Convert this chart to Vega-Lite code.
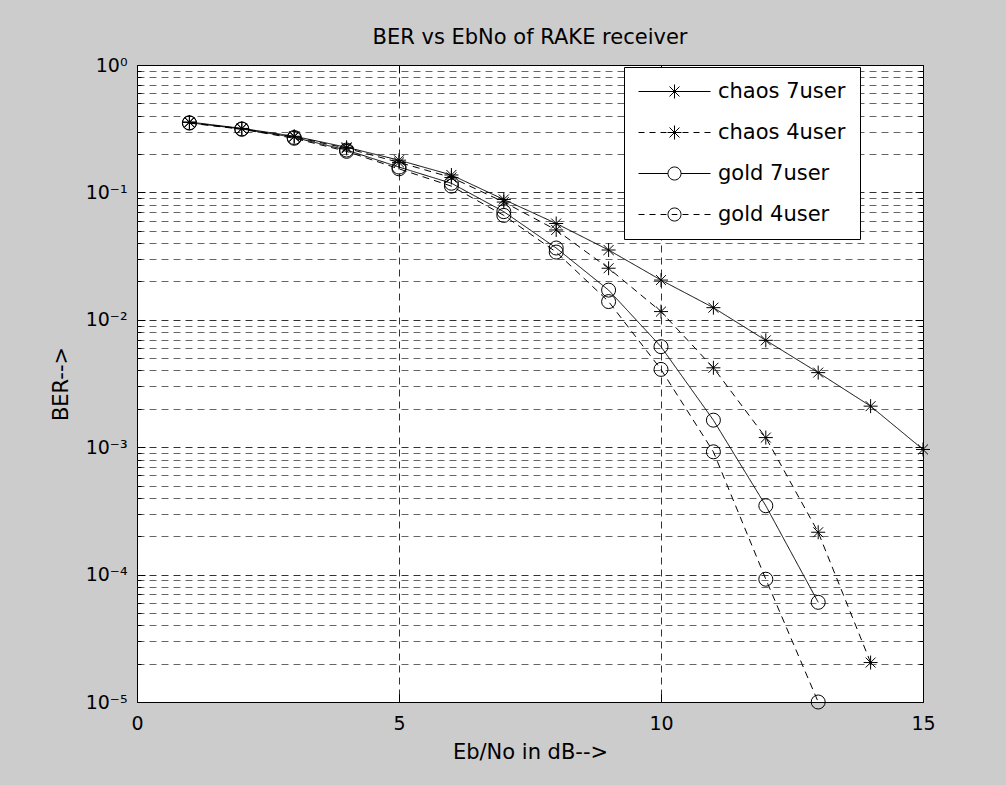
{
  "$schema": "https://vega.github.io/schema/vega-lite/v6.json",
  "width": 786,
  "height": 637,
  "autosize": {"type": "none"},
  "padding": {"left": 137, "top": 65, "right": 83, "bottom": 83},
  "background": "#cccccc",
  "title": {"text": "BER vs EbNo of RAKE receiver", "font": "DejaVu Sans", "fontSize": 21, "fontWeight": "normal", "color": "black", "anchor": "middle", "offset": 8},
  "config": {
    "view": {"fill": "white", "stroke": "black", "strokeWidth": 1},
    "axis": {"domain": false, "tickColor": "black", "labelColor": "black", "titleColor": "black", "labelFont": "DejaVu Sans", "titleFont": "DejaVu Sans", "titleFontWeight": "normal"}
  },
  "data": {"values": [
    {"ebno": 1, "ber": 0.357, "series": "chaos 7user"},
    {"ebno": 2, "ber": 0.318, "series": "chaos 7user"},
    {"ebno": 3, "ber": 0.276, "series": "chaos 7user"},
    {"ebno": 4, "ber": 0.226, "series": "chaos 7user"},
    {"ebno": 5, "ber": 0.179, "series": "chaos 7user"},
    {"ebno": 6, "ber": 0.137, "series": "chaos 7user"},
    {"ebno": 7, "ber": 0.088, "series": "chaos 7user"},
    {"ebno": 8, "ber": 0.057, "series": "chaos 7user"},
    {"ebno": 9, "ber": 0.0353, "series": "chaos 7user"},
    {"ebno": 10, "ber": 0.0205, "series": "chaos 7user"},
    {"ebno": 11, "ber": 0.01245, "series": "chaos 7user"},
    {"ebno": 12, "ber": 0.0069, "series": "chaos 7user"},
    {"ebno": 13, "ber": 0.00385, "series": "chaos 7user"},
    {"ebno": 14, "ber": 0.0021, "series": "chaos 7user"},
    {"ebno": 15, "ber": 0.00096, "series": "chaos 7user"},
    {"ebno": 1, "ber": 0.354, "series": "chaos 4user"},
    {"ebno": 2, "ber": 0.316, "series": "chaos 4user"},
    {"ebno": 3, "ber": 0.273, "series": "chaos 4user"},
    {"ebno": 4, "ber": 0.222, "series": "chaos 4user"},
    {"ebno": 5, "ber": 0.172, "series": "chaos 4user"},
    {"ebno": 6, "ber": 0.131, "series": "chaos 4user"},
    {"ebno": 7, "ber": 0.084, "series": "chaos 4user"},
    {"ebno": 8, "ber": 0.0507, "series": "chaos 4user"},
    {"ebno": 9, "ber": 0.0254, "series": "chaos 4user"},
    {"ebno": 10, "ber": 0.0116, "series": "chaos 4user"},
    {"ebno": 11, "ber": 0.0042, "series": "chaos 4user"},
    {"ebno": 12, "ber": 0.00119, "series": "chaos 4user"},
    {"ebno": 13, "ber": 0.000215, "series": "chaos 4user"},
    {"ebno": 14, "ber": 0.0000204, "series": "chaos 4user"},
    {"ebno": 1, "ber": 0.352, "series": "gold 7user"},
    {"ebno": 2, "ber": 0.315, "series": "gold 7user"},
    {"ebno": 3, "ber": 0.27, "series": "gold 7user"},
    {"ebno": 4, "ber": 0.215, "series": "gold 7user"},
    {"ebno": 5, "ber": 0.158, "series": "gold 7user"},
    {"ebno": 6, "ber": 0.118, "series": "gold 7user"},
    {"ebno": 7, "ber": 0.0706, "series": "gold 7user"},
    {"ebno": 8, "ber": 0.0366, "series": "gold 7user"},
    {"ebno": 9, "ber": 0.0171, "series": "gold 7user"},
    {"ebno": 10, "ber": 0.00615, "series": "gold 7user"},
    {"ebno": 11, "ber": 0.00163, "series": "gold 7user"},
    {"ebno": 12, "ber": 0.000347, "series": "gold 7user"},
    {"ebno": 13, "ber": 0.0000606, "series": "gold 7user"},
    {"ebno": 1, "ber": 0.35, "series": "gold 4user"},
    {"ebno": 2, "ber": 0.313, "series": "gold 4user"},
    {"ebno": 3, "ber": 0.266, "series": "gold 4user"},
    {"ebno": 4, "ber": 0.21, "series": "gold 4user"},
    {"ebno": 5, "ber": 0.153, "series": "gold 4user"},
    {"ebno": 6, "ber": 0.112, "series": "gold 4user"},
    {"ebno": 7, "ber": 0.066, "series": "gold 4user"},
    {"ebno": 8, "ber": 0.034, "series": "gold 4user"},
    {"ebno": 9, "ber": 0.0139, "series": "gold 4user"},
    {"ebno": 10, "ber": 0.00408, "series": "gold 4user"},
    {"ebno": 11, "ber": 0.00092, "series": "gold 4user"},
    {"ebno": 12, "ber": 0.000092, "series": "gold 4user"},
    {"ebno": 13, "ber": 0.00001, "series": "gold 4user"}
  ]},
  "resolve": {"axis": {"x": "independent", "y": "independent"}, "scale": {"shape": "independent"}},
  "layer": [
    {
      "mark": {"type": "line", "strokeWidth": 1, "color": "black"},
      "encoding": {
        "x": {"field": "ebno", "type": "quantitative", "scale": {"domain": [0, 15], "nice": false, "zero": false},
          "axis": {"orient": "bottom", "values": [0, 5, 10, 15], "title": "Eb/No in dB-->", "titleFontSize": 21, "titlePadding": 8,
            "labelFontSize": 19, "labelPadding": 20, "labelFlush": false, "labelOverlap": false,
            "tickSize": -8, "ticks": true,
            "grid": true, "gridDash": [7, 5], "gridColor": "#333333",
            "gridOpacity": {"condition": {"test": "datum.value == 0 || datum.value == 15", "value": 0}, "value": 1}}},
        "y": {"field": "ber", "type": "quantitative", "scale": {"type": "log", "domain": [0.00001, 1], "nice": false},
          "axis": {"orient": "left", "title": "BER-->", "titleFontSize": 21, "titlePadding": 14,
            "values": [0.00001, 0.00002, 0.00003, 0.00004, 0.00005, 0.00006, 0.00007, 0.00008, 0.00009,
                       0.0001, 0.0002, 0.0003, 0.0004, 0.0005, 0.0006, 0.0007, 0.0008, 0.0009,
                       0.001, 0.002, 0.003, 0.004, 0.005, 0.006, 0.007, 0.008, 0.009,
                       0.01, 0.02, 0.03, 0.04, 0.05, 0.06, 0.07, 0.08, 0.09,
                       0.1, 0.2, 0.3, 0.4, 0.5, 0.6, 0.7, 0.8, 0.9, 1],
            "labelExpr": "abs(log(datum.value)/LN10 - round(log(datum.value)/LN10)) < 0.001 ? (round(log(datum.value)/LN10) == 0 ? '10⁰' : '10⁻' + ['', '¹', '²', '³', '⁴', '⁵'][-round(log(datum.value)/LN10)]) : ''",
            "labelFontSize": 19, "labelPadding": 18, "labelOverlap": false, "labelBaseline": "middle",
            "tickSize": {"condition": {"test": "abs(log(datum.value)/LN10 - round(log(datum.value)/LN10)) < 0.001", "value": -8}, "value": -4},
            "grid": true, "gridDash": [7, 5],
            "gridColor": {"condition": {"test": "abs(log(datum.value)/LN10 - round(log(datum.value)/LN10)) < 0.001", "value": "#333333"}, "value": "#666666"},
            "gridOpacity": {"condition": {"test": "datum.value <= 0.0000101 || datum.value >= 0.999", "value": 0}, "value": 1}}},
        "detail": {"field": "series"},
        "strokeDash": {"field": "series", "type": "nominal", "legend": null,
          "scale": {"domain": ["chaos 4user", "chaos 7user", "gold 4user", "gold 7user"], "range": [[7, 5], [1, 0], [7, 5], [1, 0]]}}
      }
    },
    {
      "mark": {"type": "point", "filled": false, "strokeWidth": 1, "size": 196, "color": "black", "opacity": 1},
      "encoding": {
        "x": {"field": "ebno", "type": "quantitative",
          "axis": {"orient": "top", "values": [0, 5, 10, 15], "labels": false, "title": null, "grid": false, "tickSize": -8}},
        "y": {"field": "ber", "type": "quantitative",
          "axis": {"orient": "right", "labels": false, "title": null, "grid": false,
            "values": [0.00001, 0.00002, 0.00003, 0.00004, 0.00005, 0.00006, 0.00007, 0.00008, 0.00009,
                       0.0001, 0.0002, 0.0003, 0.0004, 0.0005, 0.0006, 0.0007, 0.0008, 0.0009,
                       0.001, 0.002, 0.003, 0.004, 0.005, 0.006, 0.007, 0.008, 0.009,
                       0.01, 0.02, 0.03, 0.04, 0.05, 0.06, 0.07, 0.08, 0.09,
                       0.1, 0.2, 0.3, 0.4, 0.5, 0.6, 0.7, 0.8, 0.9, 1],
            "tickSize": {"condition": {"test": "abs(log(datum.value)/LN10 - round(log(datum.value)/LN10)) < 0.001", "value": -8}, "value": -4}}},
        "shape": {"field": "series", "type": "nominal", "legend": null,
          "scale": {"domain": ["chaos 7user", "chaos 4user", "gold 7user", "gold 4user"],
            "range": ["M-1,0H1M0,-1V1M-0.71,-0.71L0.71,0.71M-0.71,0.71L0.71,-0.71", "M-1,0H1M0,-1V1M-0.71,-0.71L0.71,0.71M-0.71,0.71L0.71,-0.71", "circle", "circle"]}}
      }
    },
    {
      "transform": [{"filter": "false"}],
      "mark": {"type": "point", "filled": false, "strokeWidth": 1, "size": 196, "color": "black"},
      "encoding": {
        "x": {"field": "ebno", "type": "quantitative", "axis": null},
        "y": {"field": "ber", "type": "quantitative", "axis": null},
        "shape": {"field": "series", "type": "nominal",
          "scale": {"domain": ["chaos 7user", "chaos 4user", "gold 7user", "gold 4user"],
            "range": [
              "M-5.143,0H5.143M0,-1V1M-0.71,-0.71L0.71,0.71M-0.71,0.71L0.71,-0.71",
              "M-5.143,0H-4.286M-3.571,0H-2.714M-2,0H-1.143M-1,0H1M1.143,0H2M2.714,0H3.571M4.286,0H5.143M0,-1V1M-0.71,-0.71L0.71,0.71M-0.71,0.71L0.71,-0.71",
              "M-5.143,0H-0.93M0.93,0H5.143M0.93,0C0.93,0.5136 0.5136,0.93 0,0.93C-0.5136,0.93 -0.93,0.5136 -0.93,0C-0.93,-0.5136 -0.5136,-0.93 0,-0.93C0.5136,-0.93 0.93,-0.5136 0.93,0Z",
              "M-5.143,0H-4.286M-3.571,0H-2.714M-2,0H-1.143M1.143,0H2M2.714,0H3.571M4.286,0H5.143M-0.4,0H0.4M0.93,0C0.93,0.5136 0.5136,0.93 0,0.93C-0.5136,0.93 -0.93,0.5136 -0.93,0C-0.93,-0.5136 -0.5136,-0.93 0,-0.93C0.5136,-0.93 0.93,-0.5136 0.93,0Z"]},
          "legend": {"orient": "none", "legendX": 487, "legendY": 2, "title": null,
            "padding": 14, "strokeColor": "black", "fillColor": "white",
            "symbolOffset": 26, "labelOffset": 33, "rowPadding": 19,
            "labelFont": "DejaVu Sans", "labelFontSize": 21, "labelColor": "black",
            "symbolSize": 196, "symbolStrokeColor": "black", "symbolStrokeWidth": 1, "symbolFillColor": "transparent", "symbolOpacity": 1}
        }
      }
    }
  ]
}
